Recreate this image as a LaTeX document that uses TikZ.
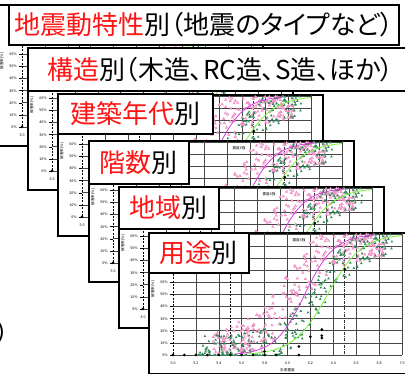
\documentclass[tikz,border=0pt]{standalone}
\usepackage{fontspec}
\setmainfont{Noto Sans CJK JP}[RawFeature=+palt]
\newfontfamily\jpfont{Noto Sans CJK JP}[RawFeature=+palt]
\newfontfamily\tinyfont{Noto Sans CJK JP}
\definecolor{jpred}{RGB}{255,20,20}
\definecolor{pinkpt}{RGB}{240,130,192}
\definecolor{greenpt}{RGB}{52,138,90}
\definecolor{magcurve}{RGB}{214,60,224}
\definecolor{grncurve}{RGB}{120,240,60}
\tikzset{
  panelframe/.style={draw=black, line width=1.6, fill=white, inner sep=0pt, minimum width=265, minimum height=141, anchor=north west},
  gridline/.style={draw=black!72, line width=0.6},
  axisdash/.style={draw=black, line width=0.6, dash pattern=on 2pt off 1.4pt},
  dashdot/.style={draw=black!80, line width=0.6, dash pattern=on 3pt off 1.2pt on 0.8pt off 1.2pt},
  lbl/.style={draw=black, line width=1.8, fill=white, inner sep=0pt, anchor=north west, font=\jpfont\fontsize{26}{26}\selectfont},
  tinytxt/.style={font=\tinyfont\fontsize{3.6}{4}\selectfont, inner sep=0pt},
  pinkmark/.style={draw=pinkpt, fill=pinkpt!60, line width=0.3},
  greenmark/.style={fill=greenpt},
  dotmark/.style={fill=black},
}
\newcommand{\drawpanel}[3]{%
\begin{scope}[shift={(#1,#2)}]
  \node[panelframe] (#3) at (0,0) {};
  % grid
  \foreach \p in {0,10,...,100} \draw[gridline] (25,{123-1.21*\p}) -- (254,{123-1.21*\p});
  \foreach \k in {1,...,10} \draw[gridline] ({25+22.9*\k},1) -- ({25+22.9*\k},123);
  \draw[axisdash] (25,1) -- (25,123);
  \draw[axisdash] (82.25,1) -- (82.25,123);
  \draw[dashdot] (196.75,1) -- (196.75,123);
  \foreach \p in {0,...,6} \draw[black, line width=0.4] (22,{123-12.1*\p}) -- (25,{123-12.1*\p});
  \foreach \p/\t in {0/0,1/10,2/20,3/30,4/40,5/50,6/60}
    \node[tinytxt, anchor=east] at (20,{123-12.1*\p}) {\t\%};
  \foreach \k/\t in {0/5.0,1/5.2,2/5.4,3/5.6,4/5.8,5/6.0,6/6.2,7/6.4,8/6.6,9/6.8,10/7.0}
    \node[tinytxt] at ({25+22.9*\k},131) {\t};
  \node[tinytxt] at (139.5,138) {計測震度};
  \node[tinytxt, rotate=90] at (5,57) {被害率(\%)};
  \node[tinytxt] at (151,8) {震度6強};
  \node[tinytxt] at (207,8) {震度7};
  % scatter
  \pgfmathsetseed{4242}
  \foreach \i in {1,...,290}{
    \pgfmathsetmacro\vv{5.35+1.5*rnd}
    \pgfmathsetmacro\bb{1/(1+exp(-(\vv-6.02)/0.18))+0.2*rand}
    \pgfmathsetmacro\pp{1-abs(1-abs(\bb))}
    \path[pinkmark] ({25+(\vv-5)*114.5},{123-121*\pp}) +(0,-1.5) -- +(1.3,0.8) -- +(-1.3,0.8) -- cycle;
  }
  \foreach \i in {1,...,300}{
    \pgfmathsetmacro\vv{5.2+1.72*rnd}
    \pgfmathsetmacro\bb{1/(1+exp(-(\vv-6.28)/0.17))+0.16*rand}
    \pgfmathsetmacro\pp{max(0,1-abs(1-\bb))}
    \path[greenmark] ({25+(\vv-5)*114.5},{123-121*\pp}) +(0,-1.5) -- +(1.3,0.8) -- +(-1.3,0.8) -- cycle;
  }
  % fitted curves
  \draw[magcurve, line width=0.8] plot[domain=5.55:6.75, samples=40]
    ({25+(\x-5)*114.5},{123-121/(1+exp(-(\x-6.15)/0.13))});
  \draw[grncurve, line width=0.8] plot[domain=5.65:7.0, samples=40]
    ({25+(\x-5)*114.5},{123-121/(1+exp(-(\x-6.35)/0.15))});
  % observed points
  \foreach \v/\p in {5.0/0,5.1/0,5.2/0,5.3/0,5.4/0,5.5/0,5.6/0,5.7/0,5.8/0,5.9/0,6.1/0,
                     5.8/3,6.1/7,6.2/15,6.3/21,6.3/16,6.3/14,6.5/71}
    \fill[dotmark] ({25+(\v-5)*114.5},{123-1.21*\p}) circle (1.5);
\end{scope}}
\begin{document}
\begin{tikzpicture}[x=1pt, y=-1pt]
  \useasboundingbox (0,0) rectangle (405,374);
  \fill[white] (0,0) rectangle (405,374);
  \node[anchor=east, inner sep=0pt, font=\jpfont\fontsize{26}{26}\selectfont] (tail) at (9.5,333) {ど）};
  \drawpanel{-3}{4}{p1}
  \node[lbl, minimum width=390, minimum height=40] (l1) at (8,4)
    {\textcolor{jpred}{地震動特性}別（地震のタイプなど）};
  \drawpanel{27}{48}{p2}
  \node[lbl, minimum width=385, minimum height=43] (l2) at (27,47)
    {\textcolor{jpred}{構造}別（木造、RC造、S造、ほか）};
  \drawpanel{57}{94}{p3}
  \node[lbl, minimum width=155, minimum height=40] (l3) at (57,93)
    {\textcolor{jpred}{建築年代}別};
  \drawpanel{88}{140}{p4}
  \node[lbl, minimum width=100, minimum height=43] (l4) at (88,140)
    {\textcolor{jpred}{階数}別};
  \drawpanel{118}{186}{p5}
  \node[lbl, minimum width=100, minimum height=42] (l5) at (118,186)
    {\textcolor{jpred}{地域}別};
  \drawpanel{148}{232}{p6}
  \node[lbl, minimum width=100, minimum height=40] (l6) at (148,232)
    {\textcolor{jpred}{用途}別};
\end{tikzpicture}
\end{document}
